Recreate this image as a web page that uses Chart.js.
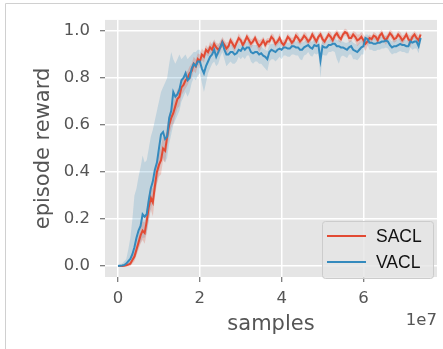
<!DOCTYPE html>
<html>
<head>
<meta charset="utf-8">
<script src="https://cdn.jsdelivr.net/npm/chart.js@4"></script>
<style>
html,body{margin:0;padding:0;background:#fff;}
#wrap{width:443px;height:349px;position:relative;}
</style>
</head>
<body>
<div id="wrap"><canvas id="c" width="443" height="349"></canvas></div>
<script>
// ---- data (x in samples, one value every 5e5 samples) ----
const STEP = 5e5;
const SACL = [
 0, 0, 0, 0.001, 0.003, 0.006, 0.01, 0.025, 0.04, 0.07,
 0.10, 0.13, 0.15, 0.14, 0.19, 0.25, 0.29, 0.27, 0.34, 0.40,
 0.43, 0.45, 0.50, 0.49, 0.55, 0.60, 0.63, 0.65, 0.68, 0.71,
 0.72, 0.76, 0.77, 0.79, 0.80, 0.82, 0.83, 0.86, 0.85, 0.88,
 0.87, 0.90, 0.89, 0.92, 0.91, 0.93, 0.92, 0.945, 0.93, 0.92,
 0.93, 0.955, 0.94, 0.925, 0.935, 0.96, 0.945, 0.93, 0.95, 0.97,
 0.96, 0.94, 0.955, 0.975, 0.96, 0.945, 0.955, 0.97, 0.95, 0.935,
 0.945, 0.96, 0.94, 0.955, 0.955, 0.975, 0.965, 0.945, 0.955, 0.97,
 0.95, 0.94, 0.955, 0.975, 0.965, 0.95, 0.96, 0.98, 0.97, 0.955,
 0.965, 0.98, 0.97, 0.955, 0.965, 0.985, 0.97, 0.955, 0.975, 0.985,
 0.965, 0.955, 0.97, 0.985, 0.975, 0.96, 0.98, 0.99, 0.975, 0.965,
 0.985, 0.995, 0.99, 0.97, 0.97, 0.985, 0.975, 0.96, 0.965, 0.975,
 0.96, 0.945, 0.955, 0.97, 0.965, 0.98, 0.975, 0.96, 0.98, 0.99,
 0.97, 0.96, 0.975, 0.99, 0.98, 0.965, 0.97, 0.985, 0.975, 0.96,
 0.97, 0.985, 0.965, 0.955, 0.975, 0.985, 0.97, 0.96, 0.985];
const SACL_SPREAD = [
 0.002, 0.002, 0.003, 0.004, 0.005, 0.008, 0.01, 0.015, 0.02, 0.025,
 0.03, 0.035, 0.04, 0.045, 0.05, 0.05, 0.05, 0.06, 0.05, 0.05,
 0.05, 0.06, 0.05, 0.05, 0.05, 0.045, 0.04, 0.045, 0.04, 0.04,
 0.04, 0.035, 0.03, 0.035, 0.03, 0.03, 0.03, 0.03, 0.03, 0.025,
 0.03, 0.025, 0.025, 0.02, 0.02, 0.025, 0.02, 0.02, 0.02, 0.025,
 0.02, 0.02, 0.02, 0.025, 0.02, 0.015, 0.02, 0.02, 0.015, 0.02,
 0.015, 0.02, 0.015, 0.015, 0.02, 0.02, 0.015, 0.015, 0.02, 0.025,
 0.02, 0.015, 0.02, 0.015, 0.015, 0.015, 0.02, 0.015, 0.015, 0.02,
 0.015, 0.02, 0.015, 0.015, 0.015, 0.02, 0.015, 0.015, 0.02, 0.015,
 0.015, 0.015, 0.02, 0.015, 0.015, 0.015, 0.02, 0.015, 0.015, 0.015,
 0.02, 0.015, 0.015, 0.015, 0.02, 0.015, 0.015, 0.015, 0.02, 0.015,
 0.015, 0.015, 0.015, 0.02, 0.015, 0.015, 0.02, 0.025, 0.02, 0.02,
 0.025, 0.03, 0.02, 0.015, 0.015, 0.015, 0.015, 0.02, 0.015, 0.015,
 0.015, 0.02, 0.015, 0.015, 0.02, 0.015, 0.015, 0.015, 0.02, 0.02,
 0.015, 0.015, 0.02, 0.025, 0.015, 0.015, 0.02, 0.02, 0.015];
const VACL = [
 0, 0.001, 0.002, 0.004, 0.01, 0.02, 0.03, 0.05, 0.08, 0.12,
 0.15, 0.17, 0.22, 0.21, 0.22, 0.28, 0.33, 0.36, 0.41, 0.44,
 0.50, 0.56, 0.57, 0.54, 0.55, 0.63, 0.66, 0.74, 0.72, 0.73,
 0.75, 0.79, 0.80, 0.82, 0.79, 0.80, 0.84, 0.86, 0.85, 0.87,
 0.87, 0.84, 0.82, 0.85, 0.87, 0.89, 0.90, 0.92, 0.89, 0.91,
 0.93, 0.95, 0.92, 0.90, 0.90, 0.91, 0.91, 0.90, 0.905, 0.92,
 0.915, 0.93, 0.92, 0.93, 0.93, 0.91, 0.905, 0.91, 0.91, 0.90,
 0.905, 0.895, 0.89, 0.88, 0.91, 0.92, 0.915, 0.91, 0.92, 0.925,
 0.92, 0.93, 0.93, 0.925, 0.925, 0.935, 0.935, 0.93, 0.93, 0.92,
 0.92, 0.93, 0.935, 0.94, 0.93, 0.925, 0.94, 0.935, 0.94, 0.875,
 0.935, 0.93, 0.93, 0.94, 0.94, 0.945, 0.945, 0.935, 0.935, 0.93,
 0.93, 0.925, 0.92, 0.93, 0.935, 0.92, 0.915, 0.91, 0.92, 0.93,
 0.935, 0.97, 0.965, 0.95, 0.95, 0.945, 0.945, 0.95, 0.95, 0.955,
 0.955, 0.96, 0.955, 0.94, 0.93, 0.935, 0.935, 0.94, 0.945, 0.94,
 0.94, 0.935, 0.935, 0.955, 0.95, 0.955, 0.955, 0.935, 0.97];
const VACL_HI = [
 0.005, 0.008, 0.01, 0.02, 0.03, 0.07, 0.12, 0.2, 0.30, 0.33,
 0.38, 0.42, 0.47, 0.44, 0.45, 0.50, 0.55, 0.58, 0.62, 0.66,
 0.70, 0.74, 0.76, 0.78, 0.80, 0.86, 0.91, 0.88, 0.86, 0.88,
 0.90, 0.88, 0.89, 0.90, 0.88, 0.89, 0.90, 0.91, 0.91, 0.92,
 0.92, 0.90, 0.90, 0.92, 0.93, 0.94, 0.95, 0.96, 0.94, 0.94,
 0.96, 0.97, 0.95, 0.94, 0.94, 0.94, 0.94, 0.935, 0.935, 0.95,
 0.94, 0.955, 0.95, 0.955, 0.955, 0.94, 0.94, 0.94, 0.94, 0.935,
 0.935, 0.925, 0.92, 0.915, 0.94, 0.945, 0.945, 0.94, 0.95, 0.955,
 0.945, 0.955, 0.955, 0.95, 0.95, 0.96, 0.96, 0.955, 0.955, 0.95,
 0.95, 0.955, 0.96, 0.965, 0.955, 0.955, 0.965, 0.96, 0.965, 0.93,
 0.96, 0.955, 0.955, 0.965, 0.965, 0.97, 0.97, 0.96, 0.96, 0.955,
 0.955, 0.95, 0.95, 0.955, 0.96, 0.95, 0.945, 0.94, 0.95, 0.955,
 0.96, 0.985, 0.985, 0.975, 0.975, 0.97, 0.97, 0.975, 0.975, 0.975,
 0.975, 0.98, 0.975, 0.965, 0.955, 0.96, 0.96, 0.965, 0.97, 0.965,
 0.965, 0.96, 0.96, 0.975, 0.975, 0.975, 0.975, 0.96, 0.985];
const VACL_LO = [
 0, 0, 0, 0, 0, 0.005, 0.01, 0.02, 0.03, 0.05,
 0.08, 0.10, 0.12, 0.12, 0.14, 0.19, 0.24, 0.27, 0.31, 0.35,
 0.40, 0.44, 0.46, 0.44, 0.46, 0.52, 0.56, 0.60, 0.62, 0.64,
 0.66, 0.70, 0.72, 0.74, 0.72, 0.74, 0.78, 0.80, 0.79, 0.81,
 0.82, 0.78, 0.74, 0.78, 0.82, 0.84, 0.86, 0.87, 0.85, 0.86,
 0.89, 0.91, 0.88, 0.85, 0.86, 0.87, 0.86, 0.86, 0.87, 0.89,
 0.88, 0.89, 0.88, 0.895, 0.895, 0.87, 0.86, 0.87, 0.87, 0.86,
 0.86, 0.85, 0.84, 0.83, 0.87, 0.88, 0.88, 0.87, 0.88, 0.89,
 0.88, 0.895, 0.895, 0.89, 0.89, 0.9, 0.9, 0.895, 0.895, 0.88,
 0.875, 0.895, 0.9, 0.91, 0.895, 0.89, 0.905, 0.9, 0.905, 0.80,
 0.9, 0.895, 0.895, 0.91, 0.91, 0.915, 0.91, 0.88, 0.86, 0.89,
 0.895, 0.89, 0.885, 0.9, 0.9, 0.88, 0.88, 0.875, 0.885, 0.9,
 0.9, 0.945, 0.94, 0.92, 0.92, 0.915, 0.915, 0.92, 0.92, 0.925,
 0.925, 0.93, 0.925, 0.91, 0.9, 0.905, 0.905, 0.91, 0.915, 0.91,
 0.91, 0.905, 0.905, 0.93, 0.92, 0.925, 0.925, 0.905, 0.95];
const X_TICKS = [0, 2e7, 4e7, 6e7];
const Y_TICKS = [0, 0.2, 0.4, 0.6, 0.8, 1.0];
const SERIES_NAMES = ['SACL', 'VACL'];
const COLORS = ['#E24A33', '#348ABD'];

const pts = arr => arr.map((v, i) => ({x: i * STEP, y: v}));
const TICK_FONT = {family: 'DejaVu Sans', size: 16.5};
const TITLE_FONT = {family: 'DejaVu Sans', size: 21, lineHeight: 1.2};

const decor = {
  id: 'decor',
  beforeDraw(chart) {
    const {ctx, chartArea: a} = chart;
    ctx.save();
    ctx.fillStyle = '#E5E5E5';
    ctx.fillRect(a.left, a.top, a.right - a.left, a.bottom - a.top);
    ctx.restore();
  },
  afterDraw(chart) {
    const {ctx, chartArea: a} = chart;
    ctx.save();
    // outer frame
    ctx.strokeStyle = '#D0D0D0';
    ctx.lineWidth = 1;
    ctx.beginPath();
    ctx.moveTo(443, 3.5); ctx.lineTo(5.5, 3.5); ctx.lineTo(5.5, 349);
    ctx.stroke();
    // offset text
    ctx.fillStyle = '#555555';
    ctx.font = '16.5px "DejaVu Sans"';
    ctx.textAlign = 'right';
    ctx.textBaseline = 'middle';
    ctx.fillText('1e7', a.right, 321);
    // legend
    const bx = 322, by = 221, bw = 111, bh = 57, r = 3;
    ctx.beginPath();
    ctx.roundRect(bx + 0.5, by + 0.5, bw, bh, r);
    ctx.fillStyle = 'rgba(229,229,229,0.8)';
    ctx.fill();
    ctx.strokeStyle = '#CCCCCC';
    ctx.stroke();
    const rows = [236, 262];
    ctx.font = '17.5px "Liberation Sans"';
    ctx.textAlign = 'left';
    SERIES_NAMES.forEach((n, i) => {
      ctx.strokeStyle = COLORS[i];
      ctx.lineWidth = 2;
      ctx.beginPath();
      ctx.moveTo(327, rows[i]); ctx.lineTo(366, rows[i]);
      ctx.stroke();
      ctx.fillStyle = '#111';
      ctx.fillText(n, 376, rows[i] + 1);
    });
    ctx.restore();
  }
};

new Chart(document.getElementById('c'), {
  type: 'line',
  data: {
    datasets: [
      {label: 'VACL', data: pts(VACL), borderColor: COLORS[1], borderWidth: 2, pointRadius: 0, fill: false, order: 0},
      {label: 'SACL', data: pts(SACL), borderColor: COLORS[0], borderWidth: 2, pointRadius: 0, fill: false, order: 1},
      {label: 'SACL hi', data: pts(SACL.map((v, i) => v + SACL_SPREAD[i])), borderWidth: 0, pointRadius: 0, backgroundColor: 'rgba(226,74,51,0.22)', fill: '+1', order: 2},
      {label: 'SACL lo', data: pts(SACL.map((v, i) => v - SACL_SPREAD[i])), borderWidth: 0, pointRadius: 0, fill: false, order: 3},
      {label: 'VACL hi', data: pts(VACL_HI), borderWidth: 0, pointRadius: 0, backgroundColor: 'rgba(52,138,189,0.2)', fill: '+1', order: 4},
      {label: 'VACL lo', data: pts(VACL_LO), borderWidth: 0, pointRadius: 0, fill: false, order: 5}
    ]
  },
  options: {
    responsive: false,
    animation: false,
    layout: {padding: {top: 17, right: 6, left: 0, bottom: 0}},
    plugins: {legend: {display: false}, tooltip: {enabled: false}},
    scales: {
      x: {
        type: 'linear', min: -0.32e7, max: 7.8e7,
        afterBuildTicks: s => { s.ticks = X_TICKS.map(v => ({value: v})); },
        afterFit: s => { s.height = 72; },
        ticks: {color: '#555555', font: TICK_FONT, padding: 7, maxRotation: 0,
                callback: v => String(Math.round(v / 1e7))},
        grid: {color: '#FFFFFF', lineWidth: 1.5, tickColor: '#555555', tickLength: 5, tickWidth: 1},
        border: {display: false},
        title: {display: true, text: 'samples', color: '#555555', font: TITLE_FONT, padding: {top: 0, bottom: 11.5}}
      },
      y: {
        min: -0.047, max: 1.047,
        afterBuildTicks: s => { s.ticks = Y_TICKS.map(v => ({value: v})); },
        afterFit: s => { s.width = 105; },
        ticks: {color: '#555555', font: TICK_FONT, padding: 10, callback: v => v.toFixed(1)},
        grid: {color: '#FFFFFF', lineWidth: 1.5, tickColor: '#555555', tickLength: 5, tickWidth: 1},
        border: {display: false},
        title: {display: true, text: 'episode reward', color: '#555555', font: TITLE_FONT, padding: {top: 31, bottom: 0}}
      }
    }
  },
  plugins: [decor]
});
</script>
</body>
</html>
